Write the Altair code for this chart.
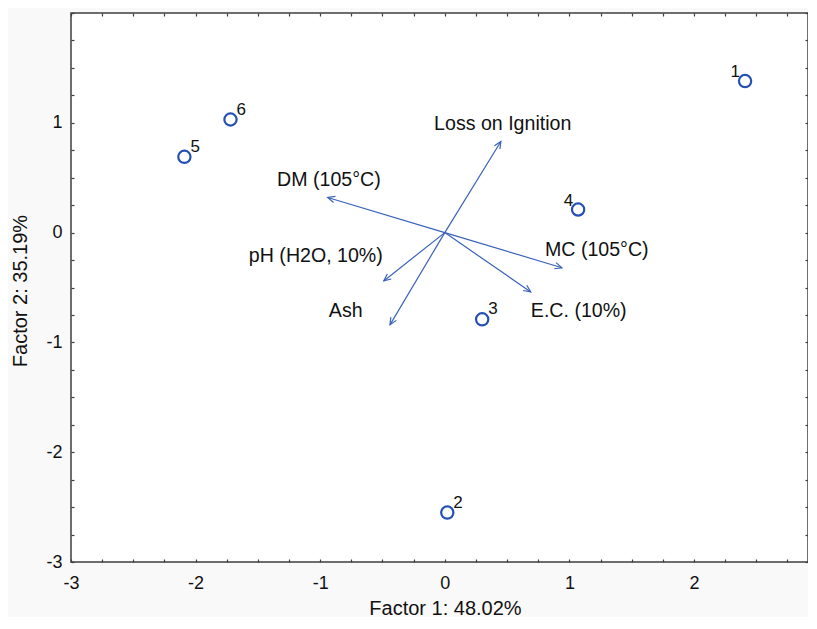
import math
import altair as alt
import pandas as pd

# ---- observations (factor scores) ----
obs_id = ["1", "2", "3", "4", "5", "6"]
obs_x = [2.41, 0.02, 0.30, 1.07, -2.09, -1.72]
obs_y = [1.38, -2.55, -0.79, 0.21, 0.69, 1.03]
obs_side = ["left", "right", "right", "left", "right", "right"]

# ---- variable loadings (arrow tips) ----
var_names = ["Loss on Ignition", "DM (105°C)", "MC (105°C)", "E.C. (10%)", "pH (H2O, 10%)", "Ash"]
var_x = [0.45, -0.94, 0.94, 0.69, -0.49, -0.44]
var_y = [0.83, 0.32, -0.32, -0.54, -0.44, -0.84]
# label anchor points (data units)
lab_x = [0.465, -0.93, 1.22, 1.075, -1.035, -0.795]
lab_y = [0.99, 0.48, -0.155, -0.717, -0.21, -0.717]

# ---- axes ----
x_major = [-3, -2, -1, 0, 1, 2]
y_major = [-3, -2, -1, 0, 1]
x_minor = [-3 + 0.25 * i for i in range(24)]
y_minor = [-3 + 0.25 * i for i in range(21)]
x_title = "Factor 1: 48.02%"
y_title = "Factor 2: 35.19%"

X_DOM = [-3, 2.915]
Y_DOM = [-3, 2]
W, H = 737, 549
FONT = "Liberation Sans"
BLUE = "#2450b4"
BLUE2 = "#3a62bb"
FRAME = "#3f3f3f"
TXT = "#111111"

sx = W / (X_DOM[1] - X_DOM[0])
sy = H / (Y_DOM[1] - Y_DOM[0])

df_obs = pd.DataFrame({"id": obs_id, "x": obs_x, "y": obs_y, "side": obs_side})
df_var = pd.DataFrame({
    "name": var_names, "x": var_x, "y": var_y,
    "x0": [0.0] * len(var_x), "y0": [0.0] * len(var_x),
    "lx": lab_x, "ly": lab_y,
})
df_var["angle"] = [
    math.degrees(math.atan2(dx * sx, dy * sy)) % 360 for dx, dy in zip(var_x, var_y)
]

xs = alt.Scale(domain=X_DOM, nice=False, zero=False)
ys = alt.Scale(domain=Y_DOM, nice=False, zero=False)

main_x_axis = alt.Axis(
    values=x_major, title=x_title, grid=False, ticks=False, tickSize=0, domain=False,
    labelFont=FONT, labelFontSize=18, labelColor=TXT, labelPadding=12,
    labelExpr="'' + datum.value", labelFlush=False, labelOverlap=False,
    titleFont=FONT, titleFontSize=20, titleFontWeight="normal", titleColor=TXT,
    titleX=374, titleY=46, titleBaseline="middle", titleAlign="center",
)
main_y_axis = alt.Axis(
    values=y_major, title=y_title, grid=False, ticks=False, tickSize=0, domain=False,
    labelFont=FONT, labelFontSize=18, labelColor=TXT, labelPadding=9,
    labelExpr="'' + datum.value", labelFlush=False, labelOverlap=False,
    titleFont=FONT, titleFontSize=20, titleFontWeight="normal", titleColor=TXT,
    titleX=-51, titleY=H / 2 + 3, titleAngle=270, titleBaseline="middle", titleAlign="center",
)


def tick_axis(orient, values, offset):
    return alt.Axis(
        orient=orient, offset=offset, values=values, labels=False, domain=False,
        grid=False, ticks=True, tickSize=3, tickColor=FRAME, tickWidth=1.2, title=None,
    )


points = alt.Chart(df_obs).mark_point(
    shape="circle", filled=False, size=150, strokeWidth=2.2, color=BLUE, opacity=1
).encode(
    x=alt.X("x:Q", scale=xs, axis=main_x_axis),
    y=alt.Y("y:Q", scale=ys, axis=main_y_axis),
)

# inward ticks on the bottom / left edges
ticks_a = alt.Chart(df_obs).mark_point(opacity=0).encode(
    x=alt.X("x:Q", scale=xs, axis=tick_axis("top", x_minor, -H)),
    y=alt.Y("y:Q", scale=ys, axis=tick_axis("right", y_minor, -W)),
)
# inward ticks on the top / right edges
ticks_b = alt.Chart(df_obs).mark_point(opacity=0).encode(
    x=alt.X("x:Q", scale=xs, axis=tick_axis("bottom", x_minor, -H)),
    y=alt.Y("y:Q", scale=ys, axis=tick_axis("left", y_minor, -W)),
)

arrows = alt.Chart(df_var).mark_rule(color=BLUE2, strokeWidth=1.2).encode(
    x=alt.X("x0:Q", scale=xs, axis=None),
    y=alt.Y("y0:Q", scale=ys, axis=None),
    x2="x:Q",
    y2="y:Q",
)

heads = alt.Chart(df_var).mark_point(
    shape="M -0.45 1 L 0 0 L 0.45 1", filled=False, size=200, strokeWidth=1.2,
    color=BLUE2, opacity=1,
).encode(
    x=alt.X("x:Q", scale=xs, axis=None),
    y=alt.Y("y:Q", scale=ys, axis=None),
    angle=alt.Angle("angle:Q", scale=None),
)

var_labels = alt.Chart(df_var).mark_text(
    font=FONT, fontSize=19.6, color=TXT, align="center", baseline="middle"
).encode(
    x=alt.X("lx:Q", scale=xs, axis=None),
    y=alt.Y("ly:Q", scale=ys, axis=None),
    text="name:N",
)

num_left = alt.Chart(df_obs).transform_filter(alt.datum.side == "left").mark_text(
    font=FONT, fontSize=17, color=TXT, align="right", baseline="middle", dx=-5, dy=-9
).encode(
    x=alt.X("x:Q", scale=xs, axis=None),
    y=alt.Y("y:Q", scale=ys, axis=None),
    text="id:N",
)
num_right = alt.Chart(df_obs).transform_filter(alt.datum.side == "right").mark_text(
    font=FONT, fontSize=17, color=TXT, align="left", baseline="middle", dx=6, dy=-10
).encode(
    x=alt.X("x:Q", scale=xs, axis=None),
    y=alt.Y("y:Q", scale=ys, axis=None),
    text="id:N",
)

chart = alt.layer(
    ticks_a, ticks_b, arrows, heads, var_labels, num_left, num_right, points
).resolve_axis(
    x="independent", y="independent"
).properties(
    width=W, height=H,
    autosize=alt.AutoSizeParams(type="none"),
    padding={"left": 63, "top": 5, "right": 0, "bottom": 55},
    background="#f9f9f9",
).configure_view(
    stroke=FRAME, strokeWidth=1.5, fill="white"
)

chart.save("out.html", embed_options={"renderer": "svg", "actions": False})
